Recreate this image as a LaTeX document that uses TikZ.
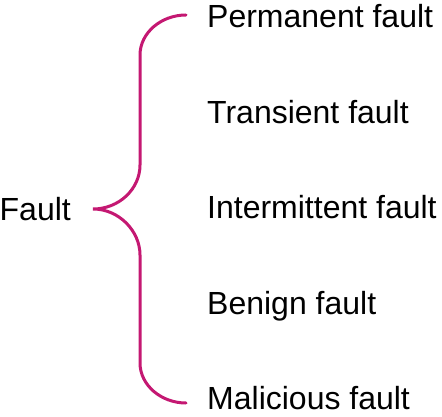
\documentclass[tikz,border=0pt]{standalone}
\usepackage{fontspec}
\setmainfont{Liberation Sans}
\usetikzlibrary{positioning}
\definecolor{bracemagenta}{RGB}{196,24,114}

\begin{document}
\begin{tikzpicture}[x=1pt, y=-1pt,
    node distance=63pt,
    faulttype/.style={inner sep=0pt, text height=24pt, text depth=8pt, anchor=west, font=\fontsize{32}{38}\selectfont},
    brace/.style={draw=bracemagenta, line width=3pt, line cap=round}
    ]
    \useasboundingbox (0,0) rectangle (442,417);

    % Brace end points
    \coordinate (top) at (186,15);
    \coordinate (tip) at (93,209);
    \coordinate (bot) at (186,403);

    % Fault types
    \node (permanent) [faulttype] at (207,20) {Permanent fault};
    \node (transient) [faulttype, below=of permanent.south west, anchor=north west] {Transient fault};
    \node (intermittent) [faulttype, below=of transient.south west, anchor=north west] {Intermittent fault};
    \node (benign) [faulttype, below=of intermittent.south west, anchor=north west] {Benign fault};
    \node (malicious) [faulttype, below=of benign.south west, anchor=north west] {Malicious fault};

    \node (fault) [faulttype, left=22pt of tip, anchor=east, yshift=-3pt] {Fault};

    % Brace
    \draw [brace] (top) .. controls (161,15) and (140,33) .. (140,55) -- (140,165)
        .. controls (140,189) and (119,209) .. (tip)
        .. controls (119,209) and (140,231) .. (140,255) -- (140,363)
        .. controls (140,385) and (161,403) .. (bot);

\end{tikzpicture}
\end{document}
